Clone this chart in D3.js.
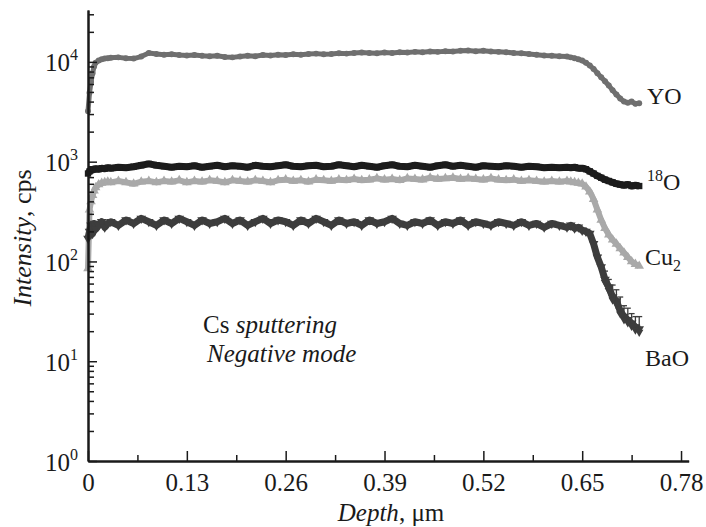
<!DOCTYPE html>
<html><head><meta charset="utf-8">
<script src="https://cdn.jsdelivr.net/npm/d3@7"></script>
<style>html,body{margin:0;padding:0;background:#fff;}svg{display:block;}</style>
</head><body>
<svg id="chart" width="706" height="527"></svg>
<script>
// ---------- data ----------
const depth = [0,0.002,0.004,0.006,0.008,0.010,0.014,0.018,0.022,0.026,
 0.03,0.04,0.05,0.06,0.07,0.08,0.09,0.10,0.11,0.12,0.13,0.14,0.15,0.16,0.17,0.18,0.19,0.20,
 0.21,0.22,0.23,0.24,0.25,0.26,0.27,0.28,0.29,0.30,0.31,0.32,0.33,0.34,0.35,0.36,0.37,0.38,0.39,0.40,
 0.41,0.42,0.43,0.44,0.45,0.46,0.47,0.48,0.49,0.50,0.51,0.52,0.53,0.54,0.55,0.56,0.57,0.58,0.59,0.60,
 0.61,0.62,0.63,
 0.635,0.64,0.645,0.65,0.655,0.66,0.665,0.67,0.675,0.68,0.685,0.69,0.695,0.70,0.705,0.71,0.715,0.72,0.725];

const yo = [3200,4900,6300,7700,9000,9800,10300,10600,10800,10900,
 11000,11100,10900,10800,11300,12300,12000,11800,11900,11700,11600,11700,11500,11400,11500,11200,11100,11300,
 11500,11400,11700,11600,11800,11700,11900,11800,12000,12100,11900,12000,12200,12100,12300,12400,12300,12200,12400,12300,
 12500,12400,12600,12500,12700,12600,12800,12700,12900,13000,12800,12900,12700,12600,12500,12300,12200,12000,11800,11600,
 11500,11400,11300,
 11100,10900,10600,10300,9800,9200,8500,7700,7000,6400,5800,5200,4700,4300,4000,3900,4000,3800,3850];

const o18 = [760,800,820,830,840,850,840,860,850,870,
 860,880,870,890,920,950,920,900,880,900,890,910,880,900,920,890,910,900,
 880,920,900,890,910,930,900,890,910,920,890,900,930,910,890,920,900,880,910,930,
 900,890,920,900,880,910,930,900,920,900,880,910,900,890,910,900,880,900,890,870,
 880,870,880,
 870,880,860,860,840,800,760,720,690,660,640,620,600,590,580,590,570,580,570];

const cu2 = [85,330,400,460,510,550,590,610,620,630,
 620,640,620,600,630,640,620,640,630,650,620,640,630,650,640,620,650,640,
 630,650,640,620,650,660,640,650,630,660,650,640,660,650,670,650,660,680,660,670,
 650,680,670,660,690,670,680,690,670,680,670,660,680,660,650,660,640,650,640,630,
 640,630,640,
 630,620,610,600,560,500,420,330,260,215,185,165,150,135,122,110,100,94,90];

const bao = [170,200,230,190,240,210,230,250,220,240,
 250,230,260,240,270,250,230,260,240,270,250,230,260,240,250,270,240,260,
 230,250,270,240,260,250,230,260,240,270,250,230,260,240,250,230,260,240,250,270,
 240,230,250,240,260,230,250,240,260,230,250,240,230,250,240,230,250,230,240,220,
 240,230,220,
 230,215,220,205,200,190,150,110,88,66,55,44,40,32,28,26,24,22,21];

// BaO error bars in the tail (upper ends)
const baoErrDepth = [0.68,0.685,0.69,0.695,0.70,0.705,0.71,0.715,0.72,0.725];
const baoErrHigh  = [80,66,58,52,44,36,34,30,28,28];

const seriesNames = ["YO","18O","Cu2","BaO"];
const xTicks = [0,0.13,0.26,0.39,0.52,0.65,0.78];
const xMinorTicks = [0.065,0.195,0.325,0.455,0.585,0.715];
const yDecades = [1,10,100,1000,10000];
const yExponents = ["0","1","2","3","4"];

// ---------- layout ----------
const svg = d3.select("#chart");
const font = "'Liberation Serif','Times New Roman',serif";
const x = d3.scaleLinear().domain([0,0.79]).range([88, 88 + 0.79*760.3]);
const y = d3.scaleLog().domain([1, Math.pow(10,4.52)]).range([461, 10]);

const yMinor = [];
yDecades.forEach(d => { for (let k=2;k<=9;k++){ const v=d*k; if (v<=y.domain()[1]) yMinor.push(v);} });

const colors = {YO:"#6f6f6f","18O":"#1c1c1c",Cu2:"#a9a9a9",BaO:"#3d3d3d"};
const data = {YO:yo,"18O":o18,Cu2:cu2,BaO:bao};
const symbols = {YO:d3.symbolCircle,"18O":d3.symbolSquare,Cu2:d3.symbolTriangle,BaO:d3.symbolTriangle};
const widths = {YO:5,"18O":7,Cu2:6,BaO:7};
const line = d3.line().x(d=>x(d[0])).y(d=>y(d[1]));

const plot = svg.append("g");
["YO","Cu2","18O","BaO"].forEach(name => {
  const pts = depth.map((d,i)=>[d,data[name][i]]);
  plot.append("path").datum(pts)
    .attr("fill","none").attr("stroke",colors[name])
    .attr("stroke-width",widths[name]).attr("stroke-linejoin","round")
    .attr("d",line);
  plot.append("g").selectAll("path").data(pts).join("path")
    .attr("transform",d=>`translate(${x(d[0])},${y(d[1])})` + (name==="BaO"?" rotate(180)":""))
    .attr("d",d3.symbol().type(symbols[name]).size(name==="YO"?28:40))
    .attr("fill",colors[name]);
});
const eb = plot.append("g").attr("stroke",colors.BaO).attr("stroke-width",1.3);
baoErrDepth.forEach((d,i)=>{
  const idx = depth.indexOf(d);
  const lo = bao[idx];
  const px = x(d);
  eb.append("line").attr("x1",px).attr("x2",px).attr("y1",y(lo)).attr("y2",y(baoErrHigh[i]));
  eb.append("line").attr("x1",px-3).attr("x2",px+3).attr("y1",y(baoErrHigh[i])).attr("y2",y(baoErrHigh[i]));
  eb.append("path").attr("transform",`translate(${px},${y(lo)+3}) rotate(180)`)
    .attr("d",d3.symbol().type(d3.symbolTriangle).size(30)).attr("fill",colors.BaO).attr("stroke","none");
});

// ---------- axes ----------
const axStyle = g => { g.select(".domain").attr("stroke","#1a1a1a").attr("stroke-width",2);
  g.selectAll(".tick line").attr("stroke","#1a1a1a").attr("stroke-width",1.5); };

svg.append("g").attr("transform","translate(0,461)")
  .call(d3.axisBottom(x).tickValues(xMinorTicks).tickSize(-6).tickSizeOuter(0).tickFormat(""))
  .call(axStyle);
const xg = svg.append("g").attr("transform","translate(0,461)")
  .call(d3.axisBottom(x).tickValues(xTicks).tickSize(-10).tickSizeOuter(0).tickFormat(d=>d===0?"0":d3.format(".2f")(d)))
  .call(axStyle);
xg.selectAll(".tick text").attr("y",12).attr("dy","0.71em")
  .attr("font-family",font).attr("font-size",25).attr("fill","#1a1a1a");

svg.append("g").attr("transform","translate(88,0)")
  .call(d3.axisLeft(y).tickValues(yMinor).tickSize(-6).tickSizeOuter(0).tickFormat(""))
  .call(axStyle);
const yg = svg.append("g").attr("transform","translate(88,0)")
  .call(d3.axisLeft(y).tickValues(yDecades).tickSize(-9).tickSizeOuter(0).tickFormat(""))
  .call(axStyle);
yg.selectAll(".tick").each(function(d,i){
  const t = d3.select(this).append("text").attr("x",-10).attr("y",9)
    .attr("text-anchor","end").attr("font-family",font).attr("fill","#1a1a1a").attr("font-size",25);
  t.append("tspan").text("10");
  t.append("tspan").attr("font-size",16).attr("dy",-11).text(yExponents[i]);
});

const xt = svg.append("text").attr("x",391).attr("y",521).attr("text-anchor","middle")
  .attr("font-family",font).attr("font-size",25).attr("fill","#1a1a1a");
xt.append("tspan").attr("font-style","italic").text("Depth");
xt.append("tspan").text(", μm");

const yt = svg.append("text").attr("transform","translate(31,238) rotate(-90)").attr("text-anchor","middle")
  .attr("font-family",font).attr("font-size",26).attr("fill","#1a1a1a");
yt.append("tspan").attr("font-style","italic").text("Intensity");
yt.append("tspan").text(", cps");

const labelPos = {YO:[647,104],"18O":[647,190],Cu2:[645,265],BaO:[645,366]};
seriesNames.forEach(name=>{
  const t = svg.append("text").attr("x",labelPos[name][0]).attr("y",labelPos[name][1])
    .attr("font-family",font).attr("font-size",24).attr("fill","#1a1a1a");
  if (name==="18O"){ t.append("tspan").attr("font-size",16).attr("dy",-9).text("18");
                     t.append("tspan").attr("dy",9).text("O"); }
  else if (name==="Cu2"){ t.append("tspan").text("Cu");
                     t.append("tspan").attr("font-size",16).attr("dy",6).text("2"); }
  else t.text(name);
});

const a1 = svg.append("text").attr("x",203).attr("y",333).attr("font-family",font).attr("font-size",25).attr("fill","#1a1a1a");
a1.append("tspan").text("Cs ");
a1.append("tspan").attr("font-style","italic").text("sputtering");
svg.append("text").attr("x",207).attr("y",362).attr("font-family",font).attr("font-size",25)
  .attr("font-style","italic").attr("fill","#1a1a1a").text("Negative mode");
</script>
</body></html>
